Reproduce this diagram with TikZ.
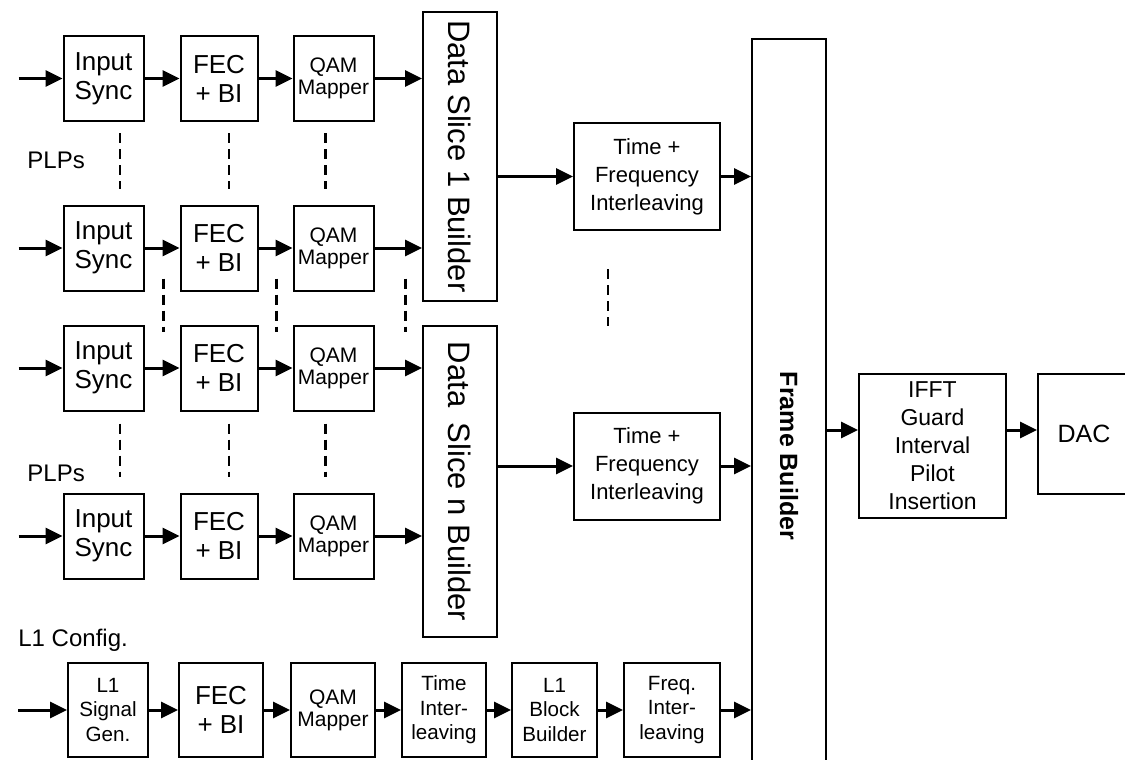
\documentclass[tikz,border=0pt]{standalone}
\usepackage{fontspec}
\setmainfont{Liberation Sans}
\usepackage{graphicx}
\usepackage{tikz}
\usetikzlibrary{positioning}
\usetikzlibrary{arrows.meta}
\usetikzlibrary{bayesnet}

\tikzset{
  block/.style={draw, line width=1pt, align=center, inner sep=1pt, minimum width=40pt, minimum height=42.5pt, font=\fontsize{13}{14.5}\selectfont},
  mapper/.style={font=\fontsize{10.5}{11}\selectfont},
  lone/.style={block, minimum width=42pt, minimum height=47pt, font=\fontsize{10.3}{12.3}\selectfont},
  tall/.style={draw, line width=1pt, inner sep=0pt, minimum width=37pt, font=\fontsize{15.5}{17}\selectfont},
  note/.style={inner sep=0pt, font=\fontsize{12}{14}\selectfont},
  vdots/.style={line width=1.4pt, dash pattern=on 5pt off 3pt},
  wire/.style={line width=1.5pt, -{Triangle[length=8.5pt,width=8pt]}},
}

\begin{document}
\begin{tikzpicture}[x=0.5pt, y=-0.5pt]
\useasboundingbox (0,0) rectangle (1125,760);
\clip (0,0) rectangle (1125,760);
% PLP rows
\node[block] (in1) at (103.5,78.5) {Input\\Sync};
\node[block, right=17.5pt of in1, minimum width=38.5pt] (fec1) {FEC\\+ BI};
\node[block, mapper, right=17pt of fec1] (qam1) {QAM\\Mapper};
\node[block] (in2) at (103.5,248) {Input\\Sync};
\node[block, right=17.5pt of in2, minimum width=38.5pt] (fec2) {FEC\\+ BI};
\node[block, mapper, right=17pt of fec2] (qam2) {QAM\\Mapper};
\node[block] (in3) at (103.5,368) {Input\\Sync};
\node[block, right=17.5pt of in3, minimum width=38.5pt] (fec3) {FEC\\+ BI};
\node[block, mapper, right=17pt of fec3] (qam3) {QAM\\Mapper};
\node[block] (in4) at (103.5,536) {Input\\Sync};
\node[block, right=17.5pt of in4, minimum width=38.5pt] (fec4) {FEC\\+ BI};
\node[block, mapper, right=17pt of fec4] (qam4) {QAM\\Mapper};
\node[note, anchor=west] (plp1) at (27,160.5) {PLPs};
\node[note, anchor=west] (plp2) at (27,473.5) {PLPs};
% data slices
\node[tall, minimum height=144.5pt] (ds1) at (460,156.5) {\rotatebox{-90}{Data Slice 1 Builder}};
\node[tall, minimum height=155.5pt] (dsn) at (460,481.5) {\rotatebox{-90}{Data\enspace Slice n Builder}};
\node[block, minimum width=73pt, minimum height=53.5pt, font=\fontsize{11}{14}\selectfont] (tf1) at (647,176.5) {Time +\\Frequency\\Interleaving};
\node[block, minimum width=73pt, minimum height=53.5pt, font=\fontsize{11}{14}\selectfont] (tfn) at (647,466) {Time +\\Frequency\\Interleaving};
\node[tall, minimum height=417pt, font=\bfseries\fontsize{12.5}{14}\selectfont] (fb) at (789,456) {\rotatebox{-90}{Frame Builder}};
\node[block, minimum width=73.5pt, minimum height=72pt, font=\fontsize{11.5}{14}\selectfont] (ifft) at (932.5,446) {IFFT\\Guard\\Interval\\Pilot\\Insertion};
\node[block, minimum width=46pt, minimum height=60pt, font=\fontsize{12.5}{14}\selectfont] (dac) at (1084,434) {DAC};
% L1 row
\node[note, anchor=base west] (l1cfg) at (18,646) {L1 Config.};
\node[lone, minimum width=40pt] (l1sig) at (108,710) {L1\\Signal\\Gen.};
\node[lone, right=14.5pt of l1sig, font=\fontsize{13}{14.5}\selectfont] (l1fec) {FEC\\+ BI};
\node[lone, mapper, right=13pt of l1fec] (l1qam) {QAM\\Mapper};
\node[lone, right=12.5pt of l1qam] (l1ti) {Time\\Inter-\\leaving};
\node[lone, right=12pt of l1ti, minimum width=42.5pt] (l1blk) {L1\\Block\\Builder};
\node[lone, right=12.5pt of l1blk, minimum width=48pt] (l1fq) {Freq.\\Inter-\\leaving};
% free ends
\coordinate[left=22pt of in1.west] (src1);
\coordinate[left=22pt of in2.west] (src2);
\coordinate[left=22pt of in3.west] (src3);
\coordinate[left=22pt of in4.west] (src4);
\coordinate[left=24.5pt of l1sig.west] (srcl);
\coordinate (ds1a) at (qam1 -| ds1.west);
\coordinate (ds1b) at (qam2 -| ds1.west);
\coordinate (dsna) at (qam3 -| dsn.west);
\coordinate (dsnb) at (qam4 -| dsn.west);
\coordinate (ds1o) at (tf1 -| ds1.east);
\coordinate (dsno) at (tfn -| dsn.east);
\coordinate (fb1) at (tf1 -| fb.west);
\coordinate (fbn) at (tfn -| fb.west);
\coordinate (fbl) at (l1fq -| fb.west);
\coordinate (ifa) at ([yshift=8pt]ifft.west);
\coordinate (fbo) at (ifa -| fb.east);
\coordinate (ifb) at (ifa -| ifft.east);
\coordinate (daca) at (ifa -| dac.west);
% arrows
\edge[wire] {src1} {in1} ;
\edge[wire] {in1} {fec1} ;
\edge[wire] {fec1} {qam1} ;
\edge[wire] {qam1} {ds1a} ;
\edge[wire] {src2} {in2} ;
\edge[wire] {in2} {fec2} ;
\edge[wire] {fec2} {qam2} ;
\edge[wire] {qam2} {ds1b} ;
\edge[wire] {src3} {in3} ;
\edge[wire] {in3} {fec3} ;
\edge[wire] {fec3} {qam3} ;
\edge[wire] {qam3} {dsna} ;
\edge[wire] {src4} {in4} ;
\edge[wire] {in4} {fec4} ;
\edge[wire] {fec4} {qam4} ;
\edge[wire] {qam4} {dsnb} ;
\edge[wire] {ds1o} {tf1} ;
\edge[wire] {dsno} {tfn} ;
\edge[wire] {tf1} {fb1} ;
\edge[wire] {tfn} {fbn} ;
\edge[wire] {srcl} {l1sig} ;
\edge[wire] {l1sig} {l1fec} ;
\edge[wire] {l1fec} {l1qam} ;
\edge[wire] {l1qam} {l1ti} ;
\edge[wire] {l1ti} {l1blk} ;
\edge[wire] {l1blk} {l1fq} ;
\edge[wire] {l1fq} {fbl} ;
\edge[wire] {fbo} {ifa} ;
\edge[wire] {ifb} {daca} ;
% dotted continuations
\draw[vdots] ([shift={(8.25pt,-5.5pt)}]in1.south) -- ([shift={(8.25pt,8pt)}]in2.north);
\draw[vdots] ([shift={(5pt,-5.5pt)}]fec1.south) -- ([shift={(5pt,8pt)}]fec2.north);
\draw[vdots] ([shift={(-4pt,-5.5pt)}]qam1.south) -- ([shift={(-4pt,8pt)}]qam2.north);
\draw[vdots] ([shift={(9.5pt,6.5pt)}]in2.south east) -- ([shift={(9.5pt,-3.5pt)}]in3.north east);
\draw[vdots] ([shift={(9pt,6.5pt)}]fec2.south east) -- ([shift={(9pt,-3.5pt)}]fec3.north east);
\draw[vdots] ([shift={(15.5pt,6.5pt)}]qam2.south east) -- ([shift={(15.5pt,-3.5pt)}]qam3.north east);
\draw[vdots] ([shift={(8.25pt,-6pt)}]in3.south) -- ([shift={(8.25pt,8pt)}]in4.north);
\draw[vdots] ([shift={(5pt,-6pt)}]fec3.south) -- ([shift={(5pt,8pt)}]fec4.north);
\draw[vdots] ([shift={(-4pt,-6pt)}]qam3.south) -- ([shift={(-4pt,8pt)}]qam4.north);
\draw[vdots] ([shift={(-19.5pt,-19pt)}]tf1.south) -- ([shift={(-19.5pt,43pt)}]tfn.north);
\end{tikzpicture}
\end{document}
